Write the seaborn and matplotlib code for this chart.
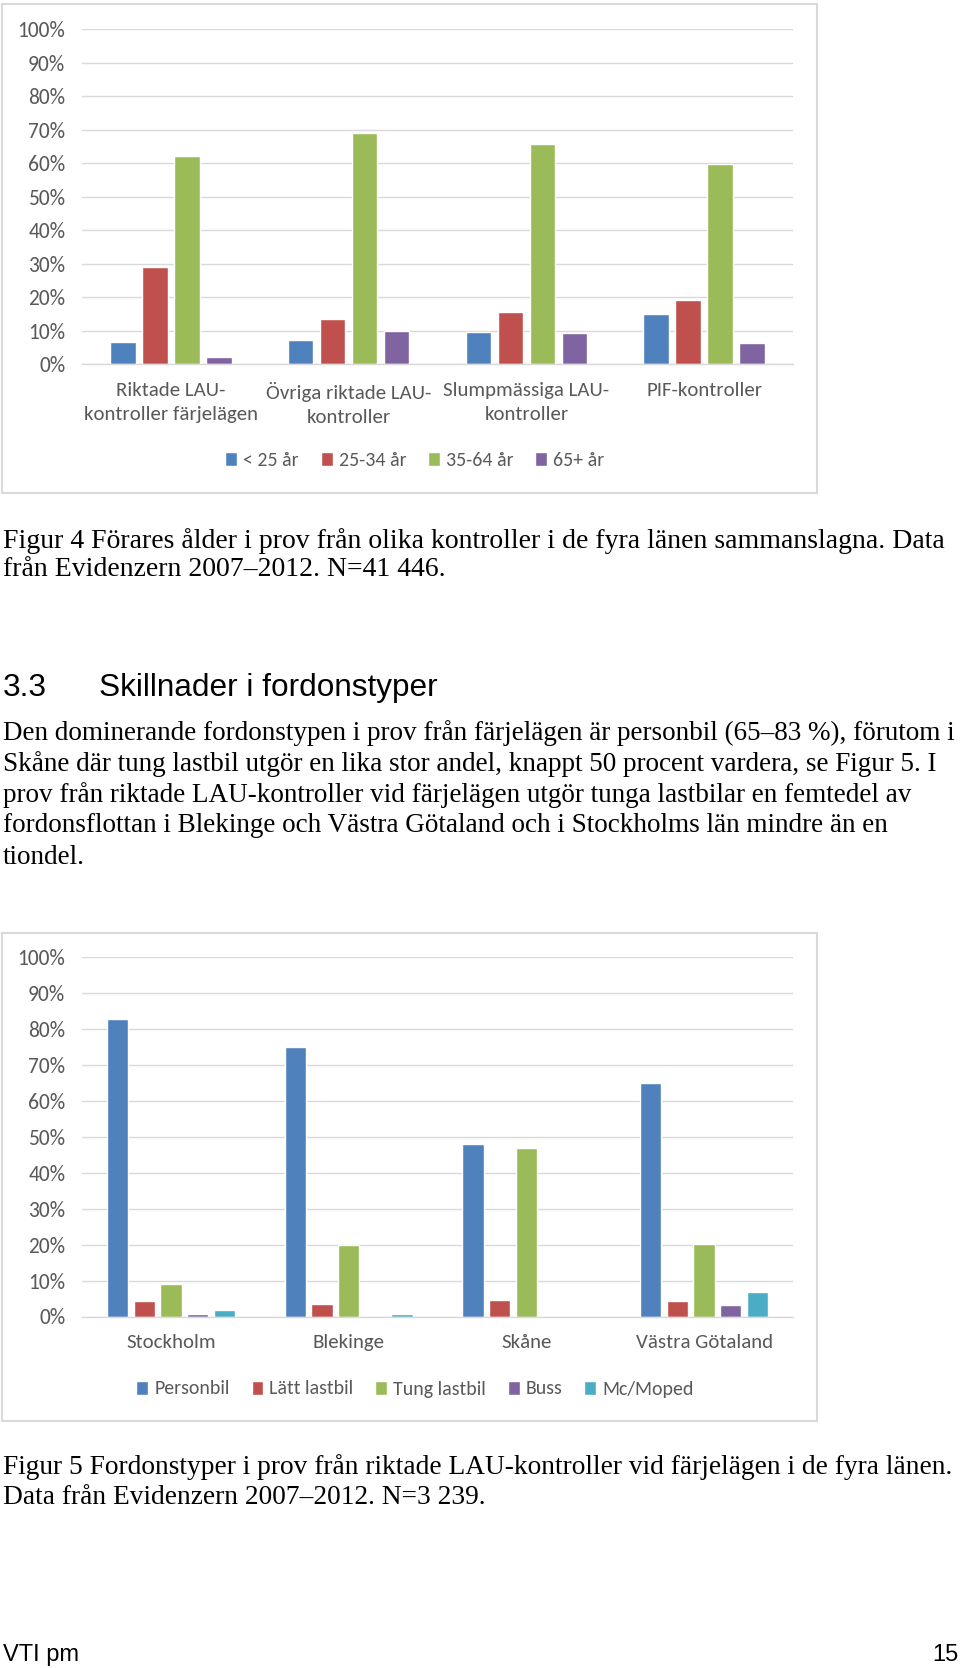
import numpy as np
import pandas as pd
import matplotlib
matplotlib.use("Agg")
import matplotlib.pyplot as plt
import matplotlib.font_manager as fm
from matplotlib.patches import Rectangle
from matplotlib.ticker import FuncFormatter, MultipleLocator
import seaborn as sns

# ---------------- data ----------------
kontroller = ["Riktade LAU-\nkontroller färjelägen", "Övriga riktade LAU-\nkontroller",
              "Slumpmässiga LAU-\nkontroller", "PIF-kontroller"]
alder_grupper = ["< 25 år", "25-34 år", "35-64 år", "65+ år"]
alder_under25 = [6.6, 7.2, 9.5, 15.0]
alder_25_34 = [29.0, 13.6, 15.6, 19.2]
alder_35_64 = [62.3, 69.1, 65.8, 59.7]
alder_65plus = [2.3, 10.0, 9.2, 6.3]

lan = ["Stockholm", "Blekinge", "Skåne", "Västra Götaland"]
fordonstyper = ["Personbil", "Lätt lastbil", "Tung lastbil", "Buss", "Mc/Moped"]
personbil = [82.9, 75.0, 48.1, 65.1]
latt_lastbil = [4.3, 3.6, 4.6, 4.3]
tung_lastbil = [9.1, 19.8, 46.9, 20.1]
buss = [0.8, 0.0, 0.0, 3.1]
mc_moped = [1.9, 0.8, 0.0, 6.7]

colors = ["#4F81BD", "#C0504D", "#9BBB59", "#8064A2", "#4BACC6"]

# ---------------- fonts ----------------
names = {f.name for f in fm.fontManager.ttflist}
chart_font = next((f for f in ["Carlito", "Liberation Sans Narrow", "Lato", "Open Sans"] if f in names), "DejaVu Sans")
serif_font = "Liberation Serif" if "Liberation Serif" in names else "DejaVu Serif"
sans_font = "Liberation Sans" if "Liberation Sans" in names else "DejaVu Sans"

sns.set_theme(style="white")
plt.rcParams["font.family"] = [chart_font, "DejaVu Sans"]

W, H = 960, 1668
fig = plt.figure(figsize=(W / 100, H / 100), dpi=100)
fig.patch.set_facecolor("white")

def ax_rect(left, right, top, bottom):
    return [left / W, 1 - bottom / H, (right - left) / W, (bottom - top) / H]

grid_c = "#D9D9D9"
txt_c = "#595959"

def draw_chart(rect, cats, groups, series, legend_y, width, border):
    ax = fig.add_axes(rect)
    rows = []
    for g, vals in zip(groups, series):
        for c, v in zip(cats, vals):
            rows.append({"cat": c, "grupp": g, "val": v})
    df = pd.DataFrame(rows)
    sns.barplot(data=df, x="cat", y="val", hue="grupp", order=cats, hue_order=groups,
                palette=colors[:len(groups)], width=width, gap=0.2, saturation=1,
                errorbar=None, ax=ax)
    ax.set_ylim(0, 100)
    ax.set_xlim(-0.5, len(cats) - 0.5)
    ax.yaxis.set_major_locator(MultipleLocator(10))
    ax.yaxis.set_major_formatter(FuncFormatter(lambda v, p: f"{v:.0f}%"))
    ax.grid(axis="y", color=grid_c, lw=1)
    ax.set_axisbelow(True)
    for s in ["top", "right", "left"]:
        ax.spines[s].set_visible(False)
    ax.spines["bottom"].set_color(grid_c)
    ax.spines["bottom"].set_linewidth(1)
    ax.tick_params(axis="y", length=0, pad=12, labelsize=15.5, labelcolor=txt_c)
    ax.tick_params(axis="x", length=0, pad=12.5, labelsize=15, labelcolor=txt_c)
    for lab in ax.get_xticklabels():
        lab.set_linespacing(1.5)
    ax.set_xlabel("")
    ax.set_ylabel("")
    handles, labels = ax.get_legend_handles_labels()
    ax.get_legend().remove()
    fig.legend(handles, labels, loc="center", bbox_to_anchor=(415 / W, 1 - legend_y / H),
               ncol=len(groups), frameon=False, fontsize=14.3, handlelength=0.6, handleheight=0.7,
               handletextpad=0.3, columnspacing=1.1, labelcolor=txt_c)
    l, t, r, b = border
    fig.patches.append(Rectangle((l / W, 1 - b / H), (r - l) / W, (b - t) / H,
                                 transform=fig.transFigure, fill=False, edgecolor=grid_c, lw=1.5))
    return ax

draw_chart(ax_rect(82, 793, 29.3, 364.3), kontroller, alder_grupper,
           [alder_under25, alder_25_34, alder_35_64, alder_65plus], 460, 0.72, (2, 4, 817, 493))
draw_chart(ax_rect(82, 793, 957.3, 1316.5), lan, fordonstyper,
           [personbil, latt_lastbil, tung_lastbil, buss, mc_moped], 1389, 0.75, (2, 933, 817, 1421))

# ---------------- text ----------------
renderer = fig.canvas.get_renderer()

def fit_size(s, target_w, family):
    t = fig.text(0, 0, s, fontsize=20, family=family)
    w = t.get_window_extent(renderer).width
    t.remove()
    return 20 * target_w / w

def put(x, y, s, size, family, ha="left", color="black"):
    fig.text(x / W, 1 - y / H, s, fontsize=size, family=family, ha=ha, va="center", color=color)

cap1 = ["Figur 4 Förares ålder i prov från olika kontroller i de fyra länen sammanslagna. Data",
        "från Evidenzern 2007–2012. N=41 446."]
fs = fit_size(cap1[0], 939, serif_font)
for s, y in zip(cap1, [541, 569]):
    put(3, y, s, fs, serif_font)

hs = fit_size("Skillnader i fordonstyper", 337, sans_font)
put(3, 688, "3.3", hs, sans_font)
put(99, 688, "Skillnader i fordonstyper", hs, sans_font)

para = ["Den dominerande fordonstypen i prov från färjelägen är personbil (65–83 %), förutom i",
        "Skåne där tung lastbil utgör en lika stor andel, knappt 50 procent vardera, se Figur 5. I",
        "prov från riktade LAU-kontroller vid färjelägen utgör tunga lastbilar en femtedel av",
        "fordonsflottan i Blekinge och Västra Götaland och i Stockholms län mindre än en",
        "tiondel."]
ps = fit_size(para[0], 953, serif_font)
for s, y in zip(para, [733, 764, 795, 826, 857]):
    put(3, y, s, ps, serif_font)

cap2 = ["Figur 5 Fordonstyper i prov från riktade LAU-kontroller vid färjelägen i de fyra länen.",
        "Data från Evidenzern 2007–2012. N=3 239."]
cs = fit_size(cap2[0], 947, serif_font)
for s, y in zip(cap2, [1467, 1497]):
    put(3, y, s, cs, serif_font)

put(3, 1655, "VTI pm", 17, sans_font)
put(958, 1655, "15", 17, sans_font, ha="right")

fig.savefig("out.png", dpi=100, facecolor="white")
